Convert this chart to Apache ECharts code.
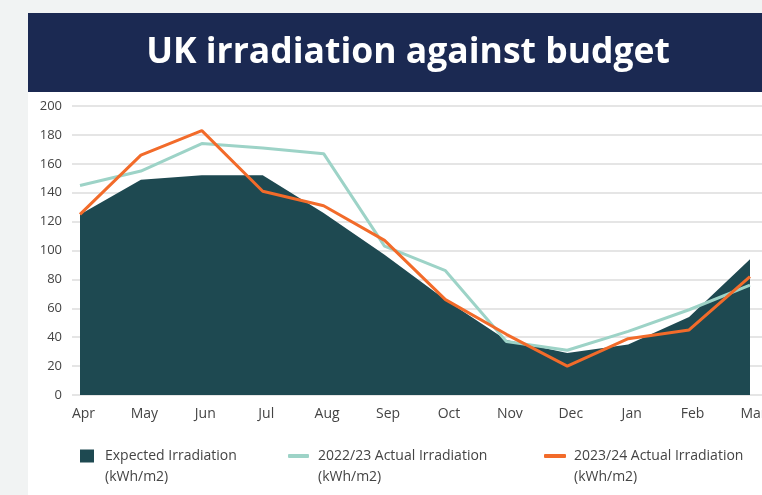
<!DOCTYPE html>
<html>
<head>
<meta charset="utf-8">
<script src="https://cdn.jsdelivr.net/npm/echarts@6/dist/echarts.min.js"></script>
<style>
  html, body { margin: 0; padding: 0; background: #f1f3f3; }
  #wrap { position: relative; width: 762px; height: 495px; overflow: hidden; }
  .panel { position: absolute; left: 28px; top: 92px; right: 0; bottom: 0; background: #fff; }
  .banner { position: absolute; left: 28px; top: 13px; right: 0; height: 79px; background: #1b2952; }
  #chart { position: absolute; left: 0; top: 0; width: 762px; height: 495px; }
</style>
</head>
<body>
<div id="wrap">
  <div class="panel"></div>
  <div class="banner"></div>
  <div id="chart"></div>
</div>
<script>
// months of the financial year
const months = ['Apr', 'May', 'Jun', 'Jul', 'Aug', 'Sep', 'Oct', 'Nov', 'Dec', 'Jan', 'Feb', 'Mar']
// kWh/m2
const expected = [125, 149, 152, 152, 126, 97, 66, 38, 29, 35, 54, 94]
const actual2223 = [145, 155, 174, 171, 167, 103, 86, 37, 31, 44, 59, 76]
const actual2324 = [125, 166, 183, 141, 131, 107, 66, 42, 20, 39, 45, 82]
const yTicks = [0, 20, 40, 60, 80, 100, 120, 140, 160, 180, 200]
const seriesNames = ['Expected Irradiation', '2022/23 Actual Irradiation', '2023/24 Actual Irradiation']
const unit = '(kWh/m2)'

const FONT = "'Open Sans', sans-serif"
const TXT = '#444'

const chart = echarts.init(document.getElementById('chart'))

const legendText = { color: TXT, fontFamily: FONT, fontSize: 14, lineHeight: 20 }
// x of each legend item's text, used for the unit line underneath
const legendTextX = [105, 318, 574]

chart.setOption({
  backgroundColor: 'transparent',
  animation: false,
  title: {
    text: 'UK irradiation against budget',
    left: 403,
    top: 30,
    textAlign: 'center',
    textStyle: { color: '#fff', fontFamily: FONT, fontWeight: 'bold', fontSize: 35.5 }
  },
  grid: [
    // data; the Mar label runs off the edge like in the original, so no shrinking
    { left: 80, right: 12, top: 106, bottom: 100, outerBoundsMode: 'none' },
    // gridlines + y labels
    { left: 72, right: 0, top: 106, bottom: 100, outerBoundsMode: 'none' }
  ],
  xAxis: [
    {
      type: 'category',
      gridIndex: 0,
      data: months,
      boundaryGap: false,
      axisLine: { show: false },
      axisTick: { show: false },
      axisLabel: { color: TXT, fontFamily: FONT, fontSize: 14, margin: 12, padding: [0, 0, 0, 7] },
      splitLine: { show: false }
    },
    { type: 'category', gridIndex: 1, data: months, show: false }
  ],
  yAxis: [
    {
      type: 'value', gridIndex: 0, min: 0, max: 200, interval: 20,
      axisLabel: { show: false }, splitLine: { show: false },
      axisLine: { show: false }, axisTick: { show: false }
    },
    {
      type: 'value', gridIndex: 1, min: yTicks[0], max: yTicks[yTicks.length - 1], interval: 20,
      axisLine: { show: false },
      axisTick: { show: false },
      axisLabel: { color: TXT, fontFamily: FONT, fontSize: 13, margin: 10 },
      splitLine: { lineStyle: { color: '#e5e5e5', width: 2 } }
    }
  ],
  legend: [
    {
      left: 80, top: 446, padding: 0, itemWidth: 14, itemHeight: 13, icon: 'rect',
      data: [seriesNames[0]], textStyle: Object.assign({}, legendText, { padding: [0, 0, 0, 6] })
    },
    {
      left: 288, top: 446, padding: 0, itemWidth: 21, itemHeight: 4, icon: 'roundRect',
      data: [seriesNames[1]], textStyle: Object.assign({}, legendText, { padding: [0, 0, 0, 4] })
    },
    {
      left: 544, top: 446, padding: 0, itemWidth: 22, itemHeight: 4, icon: 'roundRect',
      data: [seriesNames[2]], textStyle: Object.assign({}, legendText, { padding: [0, 0, 0, 3] })
    }
  ],
  graphic: legendTextX.map(x => ({
    type: 'text',
    x: x,
    y: 477,
    style: { text: unit, fill: TXT, font: '14px ' + FONT, verticalAlign: 'middle' }
  })),
  series: [
    {
      name: seriesNames[0],
      type: 'line',
      data: expected,
      symbol: 'none',
      color: '#1e4951',
      lineStyle: { width: 0 },
      areaStyle: { color: '#1e4951', opacity: 1 }
    },
    {
      name: seriesNames[1],
      type: 'line',
      data: actual2223,
      symbol: 'none',
      color: '#9dd3c7',
      lineStyle: { width: 3, color: '#9dd3c7' }
    },
    {
      name: seriesNames[2],
      type: 'line',
      data: actual2324,
      symbol: 'none',
      color: '#f26b2a',
      lineStyle: { width: 3, color: '#f26b2a' }
    }
  ]
})
</script>
</body>
</html>
